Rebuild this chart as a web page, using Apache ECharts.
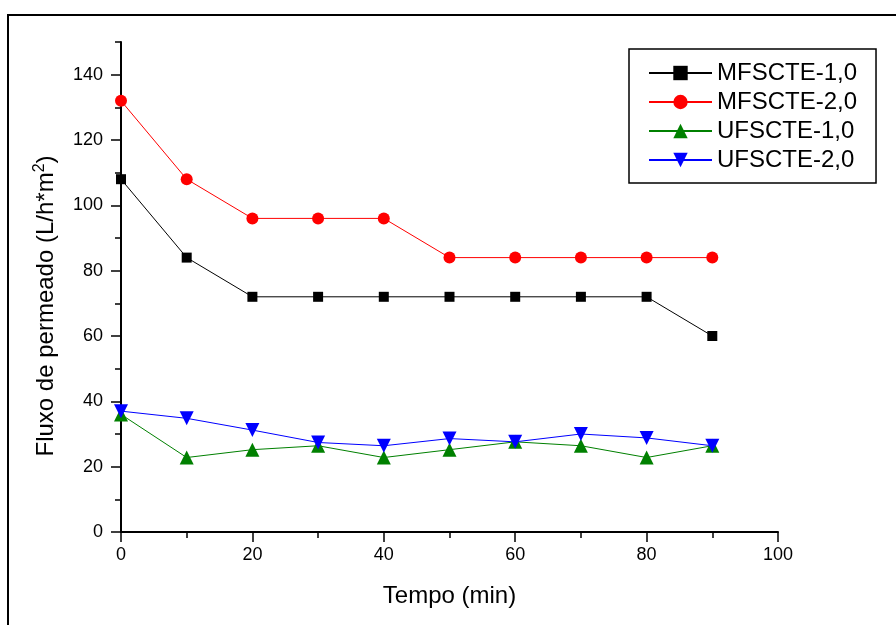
<!DOCTYPE html>
<html>
<head>
<meta charset="utf-8">
<script src="https://cdn.jsdelivr.net/npm/echarts@6/dist/echarts.min.js"></script>
<style>html,body{margin:0;padding:0;background:#fff}#c{width:896px;height:625px}</style>
</head>
<body>
<div id="c"></div>
<script>
const times = [0, 10, 20, 30, 40, 50, 60, 70, 80, 90];
const mf1 = [108, 84, 72, 72, 72, 72, 72, 72, 72, 60];
const mf2 = [132, 108, 96, 96, 96, 84, 84, 84, 84, 84];
const uf1 = [36, 22.8, 25.2, 26.4, 22.8, 25.2, 27.6, 26.4, 22.8, 26.4];
const uf2 = [37, 34.8, 31.2, 27.4, 26.4, 28.6, 27.6, 30, 28.8, 26.4];
const yMajorTicks = [0, 20, 40, 60, 80, 100, 120, 140];
const seriesNames = ['MFSCTE-1,0', 'MFSCTE-2,0', 'UFSCTE-1,0', 'UFSCTE-2,0'];

const pair = arr => times.map((t, i) => [t, arr[i]]);
const font = 'Liberation Sans, Arial, sans-serif';

const chart = echarts.init(document.getElementById('c'), null, {renderer: 'canvas'});
const mk = (name, data, color, symbol, size, rot) => ({
  name, type: 'line', data: pair(data), symbol, symbolSize: size, symbolRotate: rot || 0,
  lineStyle: {color, width: 1}, itemStyle: {color}, xAxisIndex: 0, yAxisIndex: 0,
  animation: false
});
chart.setOption({
  backgroundColor: '#fff',
  animation: false,
  graphic: [{type: 'rect', shape: {x: 8, y: 15, width: 900, height: 620}, style: {fill: 'none', stroke: '#000', lineWidth: 2}, silent: true}],
  grid: {left: 121, right: 118, top: 42, bottom: 93, containLabel: false},
  legend: {
    orient: 'vertical', left: 629, top: 49, padding: [12, 19, 11, 19],
    borderColor: '#000', borderWidth: 1.5, itemWidth: 63, itemHeight: 18, itemGap: 5,
    textStyle: {fontFamily: font, fontSize: 24, color: '#000'},
    data: seriesNames
  },
  xAxis: {
    type: 'value', min: 0, max: 100, interval: 20,
    name: 'Tempo (min)', nameLocation: 'middle', nameGap: 52,
    nameTextStyle: {fontFamily: font, fontSize: 24, color: '#000'},
    axisLine: {show: true, lineStyle: {color: '#000', width: 2}},
    axisTick: {show: true, length: 10, lineStyle: {color: '#000', width: 1.5}},
    minorTick: {show: true, splitNumber: 2, length: 6, lineStyle: {color: '#000', width: 1.5}},
    axisLabel: {fontFamily: font, fontSize: 18, color: '#000', margin: 14},
    splitLine: {show: false}
  },
  yAxis: [{
    type: 'value', min: 0, max: 150, interval: 10, position: 'left',
    axisLine: {show: true, onZero: false, lineStyle: {color: '#000', width: 2}},
    axisTick: {show: true, length: 6, lineStyle: {color: '#000', width: 1.5}},
    axisLabel: {show: false},
    splitLine: {show: false}
  }, {
    type: 'value', min: 0, max: 150, position: 'left',
    name: 'Fluxo de permeado (L/h*m{sup|2})', nameLocation: 'middle', nameGap: 61, nameRotate: 90,
    nameTextStyle: {fontFamily: font, fontSize: 24, color: '#000', padding: [0, 38, 0, 0],
      rich: {sup: {fontFamily: font, fontSize: 16, color: '#000', verticalAlign: 'top', padding: [0, 0, 12, 0]}}},
    axisLine: {show: false},
    axisTick: {show: true, length: 10, customValues: yMajorTicks, lineStyle: {color: '#000', width: 1.5}},
    axisLabel: {fontFamily: font, fontSize: 18, color: '#000', margin: 18, customValues: yMajorTicks},
    splitLine: {show: false}
  }],
  series: [
    mk(seriesNames[0], mf1, '#000000', 'rect', 10),
    mk(seriesNames[1], mf2, '#ff0000', 'circle', 12),
    mk(seriesNames[2], uf1, '#008000', 'triangle', 14),
    mk(seriesNames[3], uf2, '#0000ff', 'triangle', 14, 180)
  ]
});
</script>
</body>
</html>
